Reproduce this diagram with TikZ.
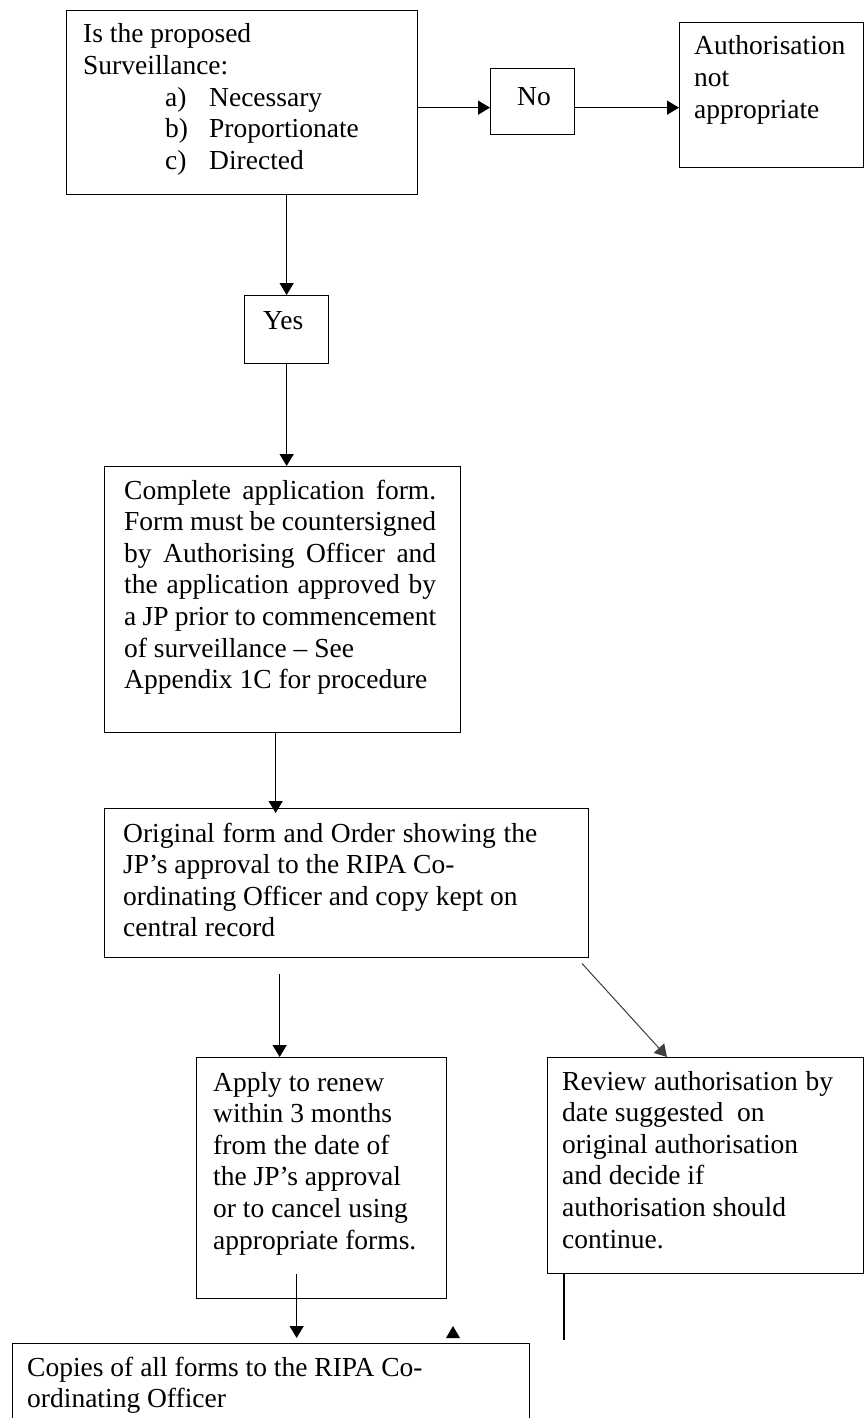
\documentclass[tikz,border=0pt]{standalone}
\usepackage{fontspec}
\setmainfont{Liberation Serif}
\usetikzlibrary{arrows.meta,calc}
\begin{document}
\begin{tikzpicture}[x=1pt,y=-1pt,
  box/.style={draw, line width=1.3pt, anchor=north west, inner sep=0pt, fill=white},
  txt/.style={anchor=base west, inner sep=0pt, font=\fontsize{27.5}{31.6}\selectfont},
  tip/.style={-{Triangle[length=12pt,width=14pt]}},
  arr/.style={line width=1.3pt, tip},
]
\useasboundingbox (0,0) rectangle (865,1418);
\clip (0,0) rectangle (865,1418);
% boxes
\node[box, minimum width=351pt, minimum height=184pt] (q) at (66,10) {};
\node[box, minimum width=84pt, minimum height=66pt] (no) at (490,68) {};
\node[box, minimum width=184pt, minimum height=145pt] (auth) at (679,22) {};
\node[box, minimum width=84pt, minimum height=68pt] (yes) at (244,295) {};
\node[box, minimum width=356pt, minimum height=266pt] (comp) at (104,466) {};
\node[box, minimum width=484pt, minimum height=149pt] (orig) at (104,808) {};
\node[box, minimum width=250pt, minimum height=241pt] (apply) at (196,1057) {};
\node[box, minimum width=316pt, minimum height=216pt] (review) at (547,1057) {};
\node[box, minimum width=517pt, minimum height=110pt] (copies) at (12,1343) {};
% texts
\node[txt] (qt) at (83,43) {\parbox[t]{330pt}{Is the proposed\\
Surveillance:\\
\hspace*{82pt}\makebox[44pt][l]{a)}Necessary\\
\hspace*{82pt}\makebox[44pt][l]{b)}Proportionate\\
\hspace*{82pt}\makebox[44pt][l]{c)}Directed}};
\node[txt] (not) at (517,106) {No};
\node[txt] (autht) at (694,55) {\parbox[t]{160pt}{Authorisation\\ not\\ appropriate}};
\node[txt] (yest) at (263,329) {Yes};
\node[txt] (compt) at (124,499) {\parbox[t]{330pt}{%
\makebox[312pt][s]{Complete application form.}\\
\makebox[312pt][s]{Form must be countersigned}\\
\makebox[312pt][s]{by Authorising Officer and}\\
\makebox[312pt][s]{the application approved by}\\
\makebox[312pt][s]{a JP prior to commencement}\\
of surveillance – See\\
Appendix 1C for procedure}};
\node[txt] (origt) at (123,842) {\parbox[t]{460pt}{%
\makebox[414pt][s]{Original form and Order showing the}\\
JP’s approval to the RIPA Co-\\
ordinating Officer and copy kept on\\
central record}};
\node[txt] (applyt) at (213,1091) {\parbox[t]{230pt}{Apply to renew\\
within 3 months\\
from the date of\\
the JP’s approval\\
or to cancel using\\
appropriate forms.}};
\node[txt] (reviewt) at (562,1090) {\parbox[t]{295pt}{%
\makebox[271pt][s]{Review authorisation by}\\
date suggested\ \ on\\
original authorisation\\
and decide if\\
authorisation should\\
continue.}};
\node[txt] (copiest) at (27,1376) {\parbox[t]{500pt}{Copies of all forms to the RIPA Co-\\
ordinating Officer}};
% connectors
\draw[arr] ([yshift=-6pt]no.west -| q.east) -- ([yshift=-6pt]no.west);
\draw[arr] ([yshift=-6pt]no.east) -- ([yshift=-6pt]no.east -| auth.west);
\draw[arr] (yes.north |- q.south) -- (yes.north);
\draw[arr] (yes.south) -- (yes.south |- comp.north);
\draw[arr, shorten >=-5pt] ([xshift=-7pt]comp.south) -- ([xshift=-7pt]comp.south |- orig.north);
\draw[arr, shorten <=16pt] ([xshift=-67pt]orig.south) -- ([xshift=-67pt]orig.south |- apply.north);
\draw[line width=1pt, draw=black!75, fill=black, tip, shorten <=7pt] ([xshift=-12pt]orig.south east) -- ([xshift=120pt]review.north west);
\draw[arr, shorten >=5pt] ([xshift=-25pt,yshift=25pt]apply.south) -- ([xshift=-25pt]apply.south |- copies.north);
\coordinate (revend) at (564,1340);
\draw[line width=1.3pt] (revend |- review.south) -- (revend);
\coordinate (lonetip) at (453,1326);
\fill (lonetip) -- ++(7,12) -- ++(-14,0) -- cycle;
\end{tikzpicture}
\end{document}
